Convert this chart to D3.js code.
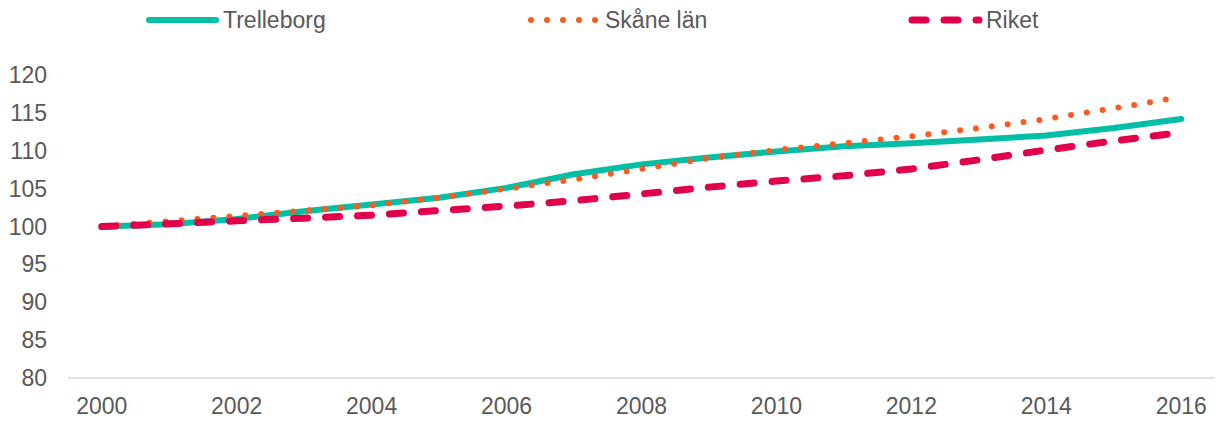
<!DOCTYPE html>
<html>
<head>
<meta charset="utf-8">
<script src="https://cdn.jsdelivr.net/npm/d3@7"></script>
<style>
  body { margin: 0; background: #fff; }
  text { font-family: "Liberation Sans", Arial, sans-serif; fill: #595959; }
</style>
</head>
<body>
<div id="chart"></div>
<script>
const WIDTH = 1221
const HEIGHT = 421

const years = [2000, 2001, 2002, 2003, 2004, 2005, 2006, 2007, 2008,
  2009, 2010, 2011, 2012, 2013, 2014, 2015, 2016]
const trelleborg = [100, 100.3, 101.0, 102.0, 102.9, 103.8, 105.1, 106.9, 108.2,
  109.1, 109.9, 110.6, 111.0, 111.5, 112.0, 113.0, 114.2]
const skane = [100, 100.7, 101.4, 102.1, 102.8, 103.8, 105.0, 106.2, 107.6,
  109.0, 110.1, 111.0, 111.9, 113.0, 114.2, 115.6, 117.1]
const riket = [100, 100.35, 100.75, 101.1, 101.5, 102.1, 102.7, 103.4, 104.3,
  105.2, 106.0, 106.7, 107.6, 108.8, 110.1, 111.3, 112.4]
const yTicks = [80, 85, 90, 95, 100, 105, 110, 115, 120]
const xTickYears = [2000, 2002, 2004, 2006, 2008, 2010, 2012, 2014, 2016]

const series = [
  {name: "Trelleborg", values: trelleborg, color: "#00BFA6", width: 6, dash: null},
  {name: "Skåne län", values: skane, color: "#FF5A1E", width: 6, dash: "0 16"},
  {name: "Riket", values: riket, color: "#E3004A", width: 7, dash: "14 18"}
]

const FONT = "23px"

const svg = d3.select("#chart").append("svg")
  .attr("width", WIDTH)
  .attr("height", HEIGHT)

const x = d3.scalePoint()
  .domain(years)
  .range([68, 1215])
  .padding(0.5)

const y = d3.scaleLinear()
  .domain([80, 120])
  .range([378, 75])

// y labels, no gridlines
svg.append("g")
  .selectAll("text")
  .data(yTicks)
  .enter()
  .append("text")
    .attr("x", 47)
    .attr("y", d => y(d))
    .attr("dy", "0.35em")
    .attr("text-anchor", "end")
    .style("font-size", FONT)
    .text(d => d)

// x axis line
svg.append("line")
  .attr("x1", 68).attr("x2", 1215)
  .attr("y1", y(80)).attr("y2", y(80))
  .attr("stroke", "#d9d9d9")
  .attr("stroke-width", 1.5)

svg.append("g")
  .selectAll("text")
  .data(xTickYears)
  .enter()
  .append("text")
    .attr("x", d => x(d))
    .attr("y", 406)
    .attr("dy", "0.35em")
    .attr("text-anchor", "middle")
    .style("font-size", FONT)
    .text(d => d)

const line = d3.line()
  .x((d, i) => x(years[i]))
  .y(d => y(d))

svg.selectAll(".series")
  .data(series)
  .enter()
  .append("path")
    .attr("class", "series")
    .attr("d", s => line(s.values))
    .attr("fill", "none")
    .attr("stroke", s => s.color)
    .attr("stroke-width", s => s.width)
    .attr("stroke-linecap", "round")
    .attr("stroke-linejoin", "round")
    .attr("stroke-dasharray", s => s.dash)

// legend
const legendX = [146, 528, 909]
const legend = svg.selectAll(".legend")
  .data(series)
  .enter()
  .append("g")
    .attr("class", "legend")
    .attr("transform", (d, i) => "translate(" + legendX[i] + ",20)")

legend.append("line")
  .attr("x1", 3).attr("x2", 70)
  .attr("y1", 0).attr("y2", 0)
  .attr("stroke", s => s.color)
  .attr("stroke-width", s => s.width)
  .attr("stroke-linecap", "round")
  .attr("stroke-dasharray", s => s.dash)

legend.append("text")
  .attr("x", 77)
  .attr("y", 0)
  .attr("dy", "0.35em")
  .style("font-size", FONT)
  .text(s => s.name)
</script>
</body>
</html>
